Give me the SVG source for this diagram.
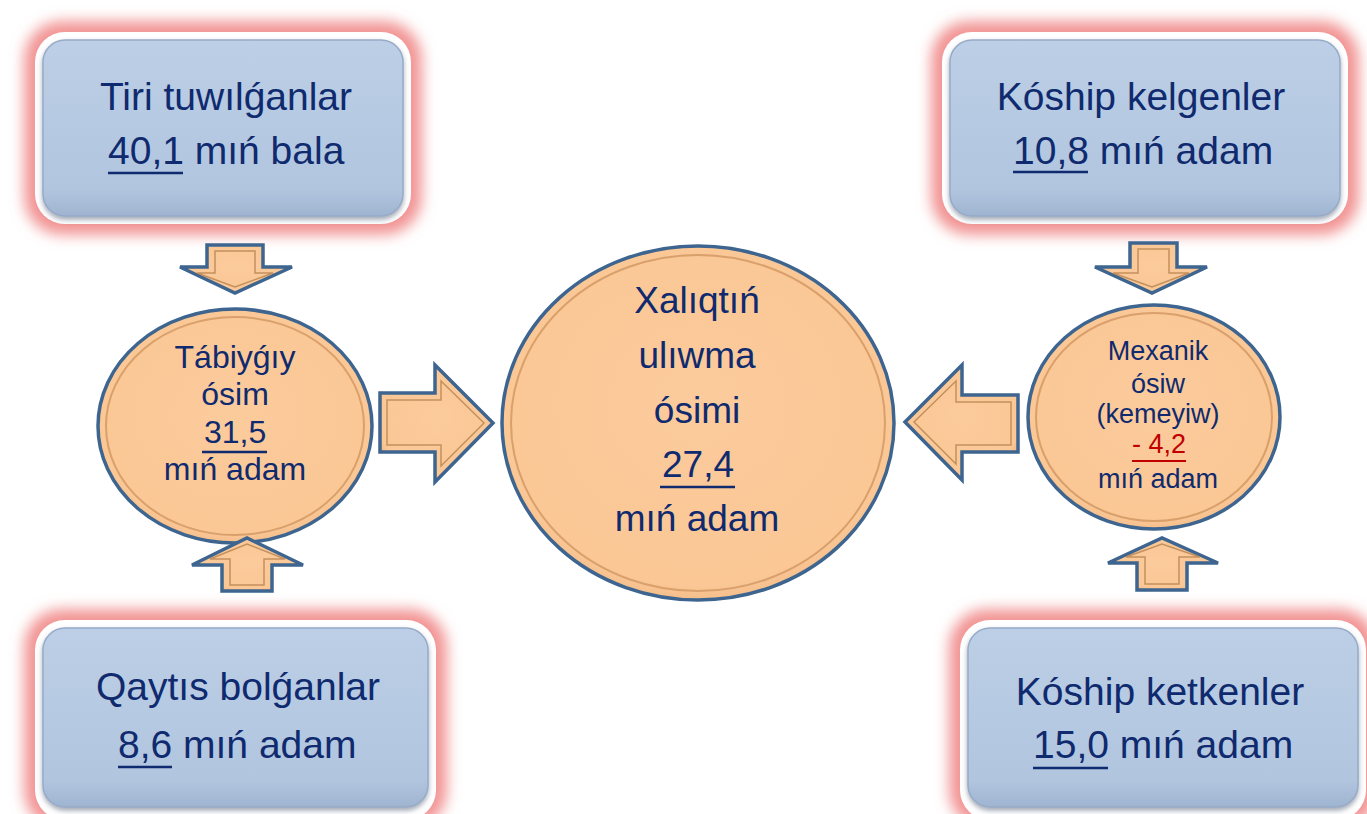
<svg xmlns="http://www.w3.org/2000/svg" width="1367" height="814" viewBox="0 0 1367 814">
<defs>
<style>
.t{font-family:"Liberation Sans",Arial,sans-serif;fill:#0f2a6e}
.bx{font-size:39px}
.c{font-size:37px}
.l{font-size:32px}
.r{font-size:27px}
.ul{stroke:#0f2a6e;stroke-width:2.5}
.glow{fill:#f29494;filter:url(#blur)}
.ring{fill:#ffffff}
.box{fill:url(#boxg);stroke:#97abc8;stroke-width:1.5;filter:url(#sh)}
.ell{fill:url(#peach);stroke:#3d6590;stroke-width:3.5}
.ell2{fill:none;stroke:#d9a06c;stroke-width:2}
.ar{fill:url(#peach);stroke:#3d6590;stroke-width:3.5;stroke-linejoin:miter}
.arin{fill:none;stroke:#b5824f;stroke-width:1.5;opacity:0.8}
</style>
<filter id="blur" x="-20%" y="-20%" width="140%" height="140%"><feGaussianBlur stdDeviation="7"/></filter>
<filter id="sh" x="-10%" y="-10%" width="120%" height="130%"><feDropShadow dx="0" dy="3" stdDeviation="2.5" flood-color="#55657a" flood-opacity="0.55"/></filter>
<linearGradient id="boxg" x1="0" y1="0" x2="0" y2="1"><stop offset="0" stop-color="#bccfe6"/><stop offset="0.85" stop-color="#b1c5df"/><stop offset="1" stop-color="#9fb4d0"/></linearGradient>
<radialGradient id="peach" cx="0.5" cy="0.45" r="0.6"><stop offset="0" stop-color="#fccb9c"/><stop offset="0.85" stop-color="#fac795"/><stop offset="1" stop-color="#eeb47e"/></radialGradient>
</defs>

<g id="box-tiri">
<rect class="glow" x="24" y="21" width="398" height="214" rx="38"/>
<rect class="ring" x="35" y="32" width="376" height="192" rx="30"/>
<rect class="box" x="43" y="40" width="360" height="176" rx="22"/>
<text class="t bx" x="226" y="110" text-anchor="middle">Tiri tuwılǵanlar</text>
<text class="t bx" x="108" y="164">40,1 mıń bala</text>
<line class="ul" x1="108" y1="173" x2="183" y2="173"/>
</g>

<g id="box-koship-kelgen">
<rect class="glow" x="931" y="21" width="428" height="214" rx="38"/>
<rect class="ring" x="942" y="32" width="406" height="192" rx="30"/>
<rect class="box" x="950" y="40" width="390" height="176" rx="22"/>
<text class="t bx" x="1141" y="110" text-anchor="middle">Kóship kelgenler</text>
<text class="t bx" x="1013" y="164">10,8 mıń adam</text>
<line class="ul" x1="1013" y1="172" x2="1088" y2="172"/>
</g>

<g id="box-qaytis">
<rect class="glow" x="24" y="609" width="423" height="220" rx="38"/>
<rect class="ring" x="35" y="620" width="401" height="200" rx="30"/>
<rect class="box" x="43" y="628" width="385" height="179" rx="22"/>
<text class="t bx" x="238" y="700" text-anchor="middle">Qaytıs bolǵanlar</text>
<text class="t bx" x="118" y="758">8,6 mıń adam</text>
<line class="ul" x1="118" y1="767" x2="172" y2="767"/>
</g>

<g id="box-koship-ketken">
<rect class="glow" x="949" y="609" width="428" height="220" rx="38"/>
<rect class="ring" x="960" y="620" width="406" height="200" rx="30"/>
<rect class="box" x="968" y="628" width="390" height="179" rx="22"/>
<text class="t bx" x="1160" y="705" text-anchor="middle">Kóship ketkenler</text>
<text class="t bx" x="1033" y="758">15,0 mıń adam</text>
<line class="ul" x1="1033" y1="768" x2="1108" y2="768"/>
</g>

<g id="node-tabiygiy">
<ellipse class="ell" cx="235" cy="426" rx="137" ry="117"/>
<ellipse class="ell2" cx="235" cy="426" rx="129" ry="109"/>
<text class="t l" x="235" y="368" text-anchor="middle">Tábiyǵıy</text>
<text class="t l" x="235" y="405" text-anchor="middle">ósim</text>
<text class="t l" x="204" y="443">31,5</text>
<line class="ul" x1="202" y1="452" x2="267" y2="452"/>
<text class="t l" x="235" y="480" text-anchor="middle">mıń adam</text>
</g>

<g id="node-xaliqtin">
<ellipse class="ell" cx="698" cy="423" rx="196" ry="177"/>
<ellipse class="ell2" cx="698" cy="423" rx="187" ry="168"/>
<text class="t c" x="697" y="313" text-anchor="middle">Xalıqtıń</text>
<text class="t c" x="697" y="368" text-anchor="middle">ulıwma</text>
<text class="t c" x="697" y="423" text-anchor="middle">ósimi</text>
<text class="t c" x="662" y="477">27,4</text>
<line class="ul" x1="660" y1="487" x2="735" y2="487"/>
<text class="t c" x="697" y="531" text-anchor="middle">mıń adam</text>
</g>

<g id="node-mexanik">
<ellipse class="ell" cx="1154" cy="417" rx="126" ry="112"/>
<ellipse class="ell2" cx="1154" cy="417" rx="118" ry="104"/>
<text class="t r" x="1158" y="360" text-anchor="middle">Mexanik</text>
<text class="t r" x="1158" y="393" text-anchor="middle">ósiw</text>
<text class="t r" x="1158" y="423" text-anchor="middle">(kemeyiw)</text>
<text class="t r" x="1132" y="453" style="fill:#c00000">- 4,2</text>
<line x1="1132" y1="461" x2="1186" y2="461" stroke="#c00000" stroke-width="2.2"/>
<text class="t r" x="1158" y="488" text-anchor="middle">mıń adam</text>
</g>

<g id="connectors">
<path class="ar" d="M207,245 H263 V267 H292 L235,293 L180,267 H207 Z"/>
<path class="arin" d="M215,251 H255 V273 H273 L235,287 L197,273 H215 Z"/>
<path class="ar" d="M1130,243 H1177 V267 H1207 L1152,293 L1095,267 H1130 Z"/>
<path class="arin" d="M1138,249 H1169 V273 H1189 L1152,287 L1113,273 H1138 Z"/>
<path class="ar" d="M222,591 H272 V565 H303 L247,538 L192,565 H222 Z"/>
<path class="arin" d="M230,585 H264 V559 H285 L247,544 L210,559 H230 Z"/>
<path class="ar" d="M1137,590 H1187 V563 H1218 L1162,538 L1108,563 H1137 Z"/>
<path class="arin" d="M1145,584 H1179 V557 H1200 L1162,544 L1126,557 H1145 Z"/>
<path class="ar" d="M380,393 H435 V365 L493,423 L435,482 V452 H380 Z"/>
<path class="arin" d="M387,400 H441 V381 L484,423 L441,466 V445 H387 Z"/>
<path class="ar" d="M1018,395 H962 V365 L905,422 L962,480 V452 H1018 Z"/>
<path class="arin" d="M1011,402 H956 V381 L914,422 L956,464 V445 H1011 Z"/>
</g>
</svg>
